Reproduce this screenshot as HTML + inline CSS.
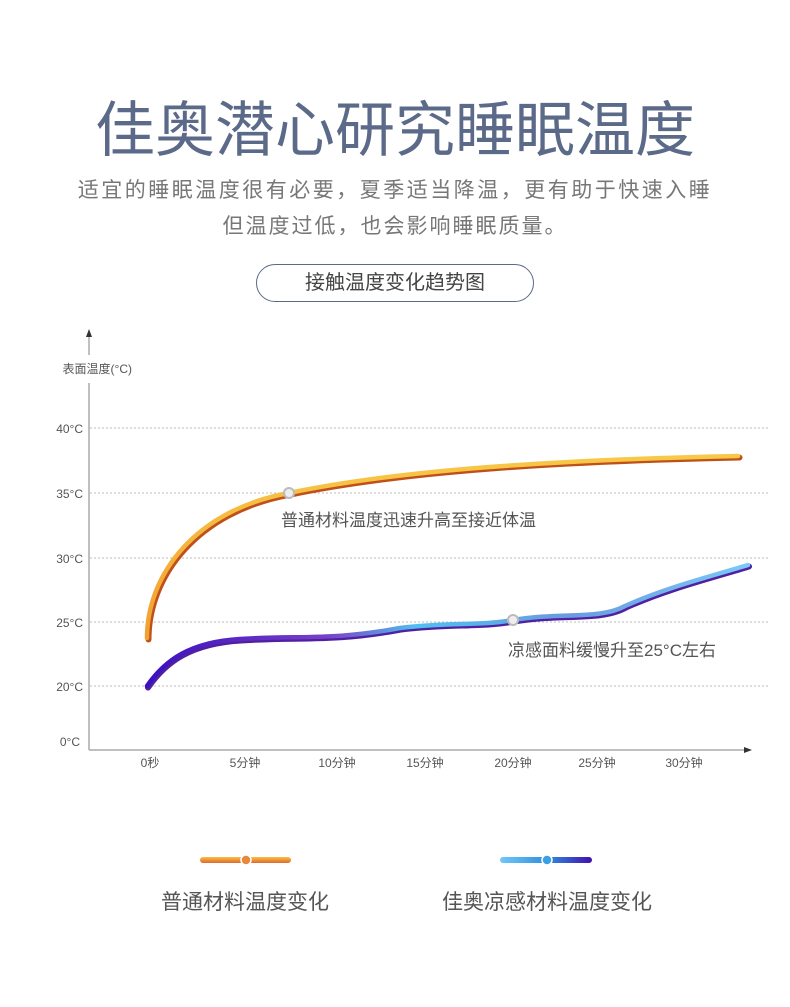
<!DOCTYPE html>
<html><head><meta charset="utf-8"><style>
body{margin:0;width:790px;height:1007px;background:#fff;position:relative;overflow:hidden;font-family:"Liberation Sans","Noto Sans CJK SC",sans-serif}
.t{position:absolute;left:0;width:790px;text-align:center}
</style></head><body>
<div class="t" style="top:82px;font-size:60px;color:#5b6a88;font-weight:400">佳奥潜心研究睡眠温度</div>
<div class="t" style="top:174px;font-size:21px;color:#777;letter-spacing:2.5px">适宜的睡眠温度很有必要，夏季适当降温，更有助于快速入睡</div>
<div class="t" style="top:210px;font-size:21px;color:#777;letter-spacing:2px">但温度过低，也会影响睡眠质量。</div>
<div style="position:absolute;left:256px;top:264px;width:276px;height:36px;border:1.5px solid #5b6a88;border-radius:19px;text-align:center;line-height:36px;font-size:20px;color:#444">接触温度变化趋势图</div>
<svg width="790" height="1007" style="position:absolute;left:0;top:0" font-family="Liberation Sans, Noto Sans CJK SC, sans-serif">
<defs>
<linearGradient id="o" x1="0" y1="1" x2="0" y2="0"><stop offset="0" stop-color="#f0a030"/><stop offset="1" stop-color="#f8c848"/></linearGradient>
<linearGradient id="b" x1="0" x2="1"><stop offset="0" stop-color="#3a10c0"/><stop offset="0.3" stop-color="#7a40c8"/><stop offset="0.45" stop-color="#50c0f0"/><stop offset="0.7" stop-color="#6a9ae0"/><stop offset="1" stop-color="#7ac8f8"/></linearGradient>
<linearGradient id="lo" x1="0" y1="0" x2="0" y2="1"><stop offset="0" stop-color="#f8c040"/><stop offset="1" stop-color="#e06830"/></linearGradient>
<linearGradient id="lb" x1="0" x2="1"><stop offset="0" stop-color="#70c8f8"/><stop offset="0.5" stop-color="#3090e0"/><stop offset="1" stop-color="#4010b0"/></linearGradient>
</defs>
<g stroke="#bbb" stroke-width="1" stroke-dasharray="2,2">
<line x1="90" y1="428" x2="770" y2="428"/><line x1="90" y1="493" x2="770" y2="493"/><line x1="90" y1="558" x2="770" y2="558"/><line x1="90" y1="622" x2="770" y2="622"/><line x1="90" y1="686" x2="770" y2="686"/>
</g>
<line x1="89" y1="336" x2="89" y2="355" stroke="#aaa" stroke-width="1.5"/>
<line x1="89" y1="383" x2="89" y2="750" stroke="#aaa" stroke-width="1.5"/>
<line x1="89" y1="750" x2="745" y2="750" stroke="#aaa" stroke-width="1.5"/>
<polygon points="89,329 86,337 92,337" fill="#333"/>
<polygon points="752,750 744,747 744,753" fill="#333"/>
<g font-size="12" fill="#555" text-anchor="end">
<text x="132" y="373">表面温度(°C)</text>
<text x="83" y="433">40°C</text><text x="83" y="498">35°C</text><text x="83" y="563">30°C</text><text x="83" y="627">25°C</text><text x="83" y="691">20°C</text><text x="80" y="746">0°C</text>
</g>
<g font-size="12" fill="#555" text-anchor="middle">
<text x="150" y="767">0秒</text><text x="245" y="767">5分钟</text><text x="337" y="767">10分钟</text><text x="425" y="767">15分钟</text><text x="513" y="767">20分钟</text><text x="597" y="767">25分钟</text><text x="684" y="767">30分钟</text>
</g>
<path d="M147,638 C147,575 195,510 289,493 C400,470 550,460 738,456" fill="none" stroke="#c0501a" stroke-width="6" stroke-linecap="round" transform="translate(1.5,1.5)"/>
<path d="M147,638 C147,575 195,510 289,493 C400,470 550,460 738,456" fill="none" stroke="url(#o)" stroke-width="4.5" stroke-linecap="round"/>
<path d="M147,686 C165,660 190,642 240,639 C300,635 330,641 400,628 C450,622 480,626 513,620 C560,612 600,620 625,606 C665,588 705,578 748,565" fill="none" stroke="#5020a0" stroke-width="6" stroke-linecap="round" transform="translate(1,1.5)"/>
<path d="M147,686 C165,660 190,642 240,639 C300,635 330,641 400,628 C450,622 480,626 513,620 C560,612 600,620 625,606 C665,588 705,578 748,565" fill="none" stroke="url(#b)" stroke-width="4.5" stroke-linecap="round"/>
<circle cx="289" cy="493" r="5" fill="#eee" stroke="#bbb" stroke-width="2"/>
<circle cx="513" cy="620" r="5" fill="#eee" stroke="#bbb" stroke-width="2"/>
<text x="281" y="526" font-size="17" fill="#555">普通材料温度迅速升高至接近体温</text>
<text x="508" y="656" font-size="17" fill="#555">凉感面料缓慢升至25°C左右</text>
<rect x="200" y="857" width="91" height="6" rx="3" fill="url(#lo)"/>
<circle cx="246" cy="860" r="5" fill="#e8883a" stroke="#fff" stroke-width="1.5"/>
<rect x="500" y="857" width="92" height="6" rx="3" fill="url(#lb)"/>
<circle cx="547" cy="860" r="5" fill="#3aa0e0" stroke="#fff" stroke-width="1.5"/>
<text x="245" y="909" font-size="21" fill="#555" text-anchor="middle">普通材料温度变化</text>
<text x="547" y="909" font-size="21" fill="#555" text-anchor="middle">佳奥凉感材料温度变化</text>
</svg>
</body></html>
